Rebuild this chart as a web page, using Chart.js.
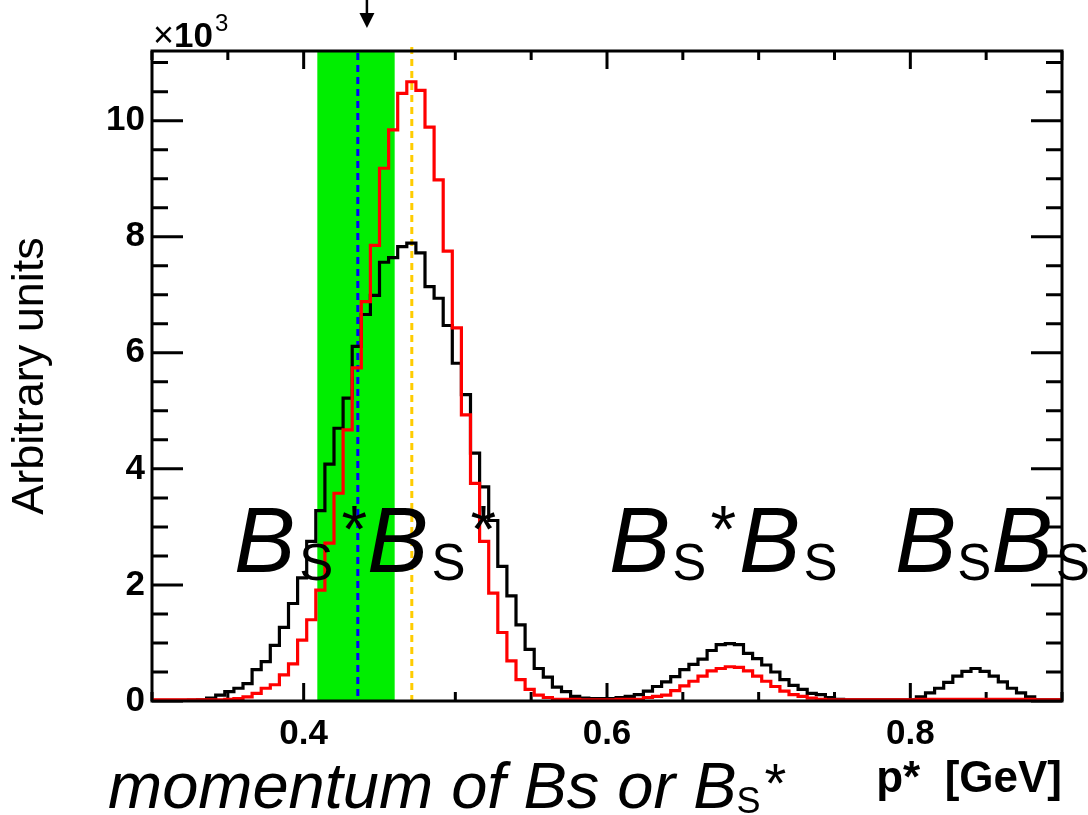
<!DOCTYPE html>
<html>
<head>
<meta charset="utf-8">
<script src="https://cdn.jsdelivr.net/npm/chart.js@4.4.1/dist/chart.umd.min.js"></script>
<style>
  html, body { margin: 0; padding: 0; background: #fff; }
  #wrap { width: 1088px; height: 815px; position: relative; }
</style>
</head>
<body>
<div id="wrap"><canvas id="c" width="1088" height="815"></canvas></div>
<script>
// Histogram binning: 100 equal bins between these edges (GeV)
const xRange = [0.3, 0.9];
const yRange = [0, 11200];

// Bin contents, left to right
const blackCounts = [
  10, 10, 10, 10, 10,   15, 20, 50, 100, 160,
  220, 300, 540, 680, 960,   1270, 1680, 2120, 2750, 3280,
  4080, 4700, 5220, 6110, 6660,   6990, 7560, 7640, 7830, 7890,
  7720, 7140, 6940, 6470, 5820,   5280, 4270, 3690, 3110, 2320,
  1810, 1310, 890, 560, 410,   240, 160, 80, 50, 40,
  40, 40, 60, 80, 110,   170, 250, 330, 420, 540,
  630, 720, 870, 970, 990,   970, 820, 730, 620, 500,
  370, 270, 200, 130, 110,   60, 30, 20, 20, 20,
  20, 20, 20, 20, 20,   70, 140, 220, 320, 430,
  510, 560, 510, 430, 330,   220, 140, 70, 20, 20
];
const redCounts = [
  20, 20, 20, 20, 20,   20, 20, 20, 20, 30,
  40, 70, 130, 220, 280,   450, 640, 1050, 1400, 1910,
  2720, 3580, 4670, 5740, 6880,   7850, 9180, 9840, 10470, 10670,
  10520, 9890, 8980, 7750, 6430,   4930, 3750, 2750, 1860, 1180,
  690, 370, 200, 100, 60,   30, 30, 30, 20, 20,
  20, 20, 30, 30, 30,   60, 80, 100, 180, 260,
  340, 430, 520, 560, 590,   580, 520, 430, 340, 250,
  170, 110, 80, 50, 30,   20, 20, 20, 20, 20,
  20, 20, 20, 20, 20,   30, 30, 30, 30, 30,
  30, 30, 30, 30, 30,   30, 30, 30, 20, 20
];

// Axis tick values
const xTickLabels = [0.4, 0.6, 0.8];
const yTickLabels = [0, 2000, 4000, 6000, 8000, 10000];
const xMinorStep = 0.05;
const yMinorStep = 500;

// Markers
const bandRange = [0.409, 0.460];
const blueLineX = 0.4357;
const orangeLineX = 0.4713;
const arrowX = 0.4417;

const FONT = "'Liberation Sans', Arial, Helvetica, sans-serif";

function stepPoints(counts) {
  const n = counts.length;
  const w = (xRange[1] - xRange[0]) / n;
  const pts = counts.map((c, i) => ({ x: xRange[0] + i * w, y: c }));
  pts.push({ x: xRange[1], y: counts[n - 1] });
  return pts;
}

function drawRich(ctx, x, baseY, parts) {
  let cx = x;
  for (const p of parts) {
    ctx.font = p.font;
    ctx.fillText(p.t, cx, baseY + (p.dy || 0));
    cx += ctx.measureText(p.t).width + (p.gap || 0);
  }
}

const decorations = {
  id: 'decorations',
  beforeDatasetsDraw(chart) {
    const { ctx, chartArea: a, scales: { x, y } } = chart;
    ctx.save();
    // inner tick marks on all four sides
    ctx.strokeStyle = '#000';
    ctx.lineWidth = 3;
    ctx.beginPath();
    const ny = Math.floor(yRange[1] / yMinorStep);
    for (let k = 0; k <= ny; k++) {
      const v = k * yMinorStep;
      const py = y.getPixelForValue(v);
      const len = yTickLabels.includes(v) ? 31 : 16;
      ctx.moveTo(a.left, py); ctx.lineTo(a.left + len, py);
      ctx.moveTo(a.right, py); ctx.lineTo(a.right - len, py);
    }
    const nx = Math.round((xRange[1] - xRange[0]) / xMinorStep);
    for (let k = 0; k <= nx; k++) {
      const v = xRange[0] + k * xMinorStep;
      const px = x.getPixelForValue(v);
      const major = xTickLabels.some(t => Math.abs(t - v) < 1e-9);
      const len = major ? 18 : 9;
      ctx.moveTo(px, a.bottom); ctx.lineTo(px, a.bottom - len);
      ctx.moveTo(px, a.top); ctx.lineTo(px, a.top + len);
    }
    ctx.stroke();

    // selection band
    const bx0 = x.getPixelForValue(bandRange[0]);
    const bx1 = x.getPixelForValue(bandRange[1]);
    ctx.fillStyle = '#00ee00';
    ctx.fillRect(bx0, a.top, bx1 - bx0, a.bottom - a.top);

    // dashed reference lines
    ctx.lineWidth = 3;
    ctx.setLineDash([7, 5]);
    ctx.strokeStyle = '#0000ff';
    let px = x.getPixelForValue(blueLineX);
    ctx.beginPath(); ctx.moveTo(px, a.top + 2); ctx.lineTo(px, a.bottom); ctx.stroke();
    ctx.strokeStyle = '#ffcc00';
    px = x.getPixelForValue(orangeLineX);
    ctx.beginPath(); ctx.moveTo(px, a.top - 4); ctx.lineTo(px, a.bottom); ctx.stroke();
    ctx.restore();
  },
  afterDatasetsDraw(chart) {
    const { ctx, chartArea: a } = chart;
    ctx.save();
    ctx.strokeStyle = '#000';
    ctx.lineWidth = 3;
    ctx.strokeRect(a.left, a.top, a.right - a.left, a.bottom - a.top);
    ctx.restore();
  },
  afterDraw(chart) {
    const { ctx, chartArea: a, scales: { x } } = chart;
    ctx.save();
    ctx.fillStyle = '#000';
    ctx.textBaseline = 'alphabetic';
    ctx.textAlign = 'left';

    // axis multiplier
    drawRich(ctx, a.left + 1, 47, [
      { t: '\u00d7', font: `36px ${FONT}` },
      { t: '10', font: `bold 35px ${FONT}`, gap: 2 },
      { t: '3', font: `24px ${FONT}`, dy: -16 }
    ]);

    // arrow above the frame
    const ax = x.getPixelForValue(arrowX);
    ctx.strokeStyle = '#000';
    ctx.lineWidth = 2.5;
    ctx.beginPath(); ctx.moveTo(ax, 0); ctx.lineTo(ax, 16); ctx.stroke();
    ctx.beginPath();
    ctx.moveTo(ax - 7.5, 13); ctx.lineTo(ax + 7.5, 13); ctx.lineTo(ax, 28); ctx.closePath();
    ctx.fill();

    // peak labels
    const B = `italic 92px ${FONT}`;
    const S = `51px ${FONT}`;
    const star = `66px ${FONT}`;
    const base = 572;
    drawRich(ctx, 234, base, [
      { t: 'B', font: B, gap: 4 }, { t: 'S', font: S, dy: 8, gap: 8 }, { t: '*', font: star, dy: -20 },
      { t: 'B', font: B, gap: 3 }, { t: 'S', font: S, dy: 8, gap: 5 }, { t: '*', font: star, dy: -20 }
    ]);
    drawRich(ctx, 609, base, [
      { t: 'B', font: B, gap: 2 }, { t: 'S', font: S, dy: 8, gap: 4 }, { t: '*', font: star, dy: -20, gap: 3 },
      { t: 'B', font: B, gap: 3 }, { t: 'S', font: S, dy: 8 }
    ]);
    drawRich(ctx, 895, base, [
      { t: 'B', font: B, gap: 1 }, { t: 'S', font: S, dy: 8 },
      { t: 'B', font: B, gap: 3 }, { t: 'S', font: S, dy: 8 }
    ]);

    // caption under the axis
    drawRich(ctx, 108, 808, [
      { t: 'momentum of Bs or B', font: `italic 65px ${FONT}` },
      { t: 'S', font: `36px ${FONT}`, dy: 5, gap: 4 },
      { t: '*', font: `56px ${FONT}`, dy: -6 }
    ]);
    ctx.restore();
  }
};

Chart.defaults.font.family = FONT;
Chart.defaults.color = '#000';

new Chart(document.getElementById('c'), {
  type: 'line',
  data: {
    datasets: [
      {
        label: 'red',
        data: stepPoints(redCounts),
        stepped: 'after',
        borderColor: '#ff0000',
        borderWidth: 3.2,
        pointRadius: 0,
        fill: false,
        order: 0
      },
      {
        label: 'black',
        data: stepPoints(blackCounts),
        stepped: 'after',
        borderColor: '#000000',
        borderWidth: 3.2,
        pointRadius: 0,
        fill: false,
        order: 1
      }
    ]
  },
  options: {
    responsive: false,
    animation: false,
    devicePixelRatio: 1,
    layout: { padding: { left: 0, right: 26, top: 51, bottom: 0 } },
    plugins: { legend: { display: false }, tooltip: { enabled: false } },
    scales: {
      x: {
        type: 'linear',
        min: xRange[0],
        max: xRange[1],
        grid: { display: false, drawTicks: false },
        border: { display: false },
        afterBuildTicks: (s) => { s.ticks = xTickLabels.map(v => ({ value: v })); },
        afterFit: (s) => { s.height = 114; },
        ticks: {
          font: { size: 35, weight: 'bold' },
          padding: 12,
          maxRotation: 0,
          autoSkip: false,
          callback: (v) => Number(v).toFixed(1)
        },
        title: {
          display: true,
          text: 'p*  [GeV]',
          align: 'end',
          font: { size: 44, weight: 'bold' },
          padding: { top: 0, bottom: 9 }
        }
      },
      y: {
        type: 'linear',
        min: yRange[0],
        max: yRange[1],
        grid: { display: false, drawTicks: false },
        border: { display: false },
        afterBuildTicks: (s) => { s.ticks = yTickLabels.map(v => ({ value: v })); },
        afterFit: (s) => { s.width = 152; },
        ticks: {
          font: { size: 35, weight: 'bold' },
          padding: 7,
          autoSkip: false,
          callback: (v) => String(v / 1000)
        },
        title: {
          display: true,
          text: 'Arbitrary units',
          font: { size: 45 },
          padding: { top: 4, bottom: 0 }
        }
      }
    }
  },
  plugins: [decorations]
});
</script>
</body>
</html>
